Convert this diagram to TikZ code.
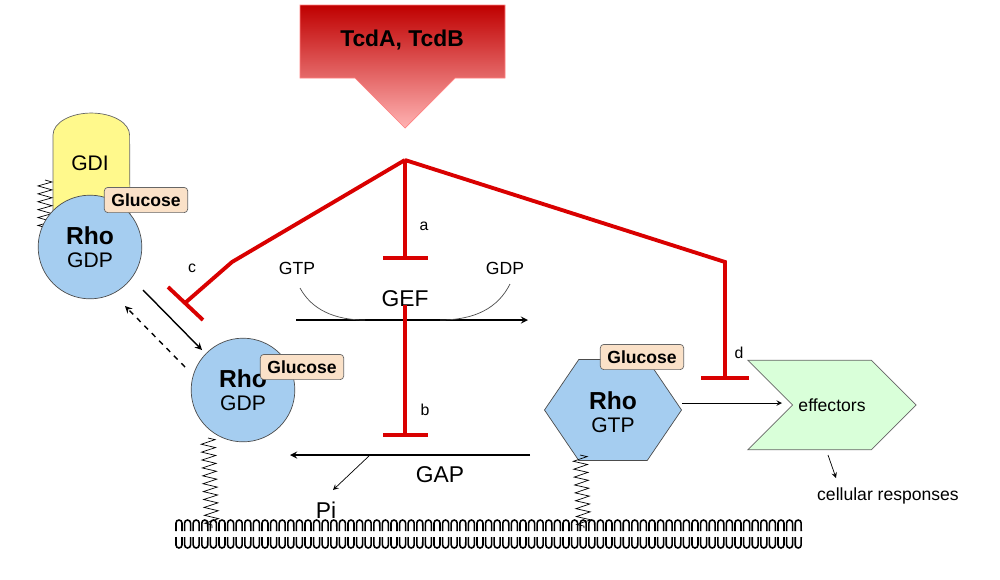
\documentclass[tikz,border=0pt]{standalone}
\usepackage{fontspec}
\setmainfont{Liberation Sans}
\usetikzlibrary{shapes,shapes.symbols,positioning,calc,decorations.pathmorphing}
\definecolor{rhoblue}{RGB}{165,205,240}
\definecolor{glcbeige}{RGB}{250,225,200}

\begin{document}
\begin{tikzpicture}[x=0.02cm,y=-0.02cm,
    rho/.style={draw=black!70, fill=rhoblue, circle, minimum size=59pt, inner sep=0, align=center, font=\fontsize{12}{13}\selectfont},
    glc/.style={draw=black!60, fill=glcbeige, rounded corners=2pt, font=\fontsize{10}{11}\selectfont\bfseries, inner xsep=4pt, inner ysep=3.5pt},
    inh/.style={red!85!black, line width=2.2pt},
    spring/.style={decorate, decoration={zigzag, segment length=4.5pt, amplitude=4pt}},
    lbl/.style={font=\fontsize{9}{10}\selectfont}]
    \useasboundingbox (0,0) rectangle (1000,579);

    % toxin arrow
    \shade[top color=red!75!black, bottom color=red!30, draw=red!50]
        (300,5) -- (505,5) -- (505,78) -- (455,78) -- (405,128) -- (355,78) -- (300,78) -- cycle;
    \node[font=\fontsize{13}{14}\selectfont\bfseries] (toxin) at (402,40) {TcdA, TcdB};

    % Rho-GDP with GDI
    \draw[black!60, fill=yellow!45] (53,215) -- (53,135) arc[start angle=180, end angle=0, x radius=21.8pt, y radius=12.5pt] -- (130,215) -- cycle;
    \node[font=\fontsize{12}{13}\selectfont] (gdi) at (90,163) {GDI};
    \draw[spring] (45,180) -- (45,228);
    \node[rho] (rhoA) at (90,247) {\fontsize{14}{15}\selectfont\textbf{Rho}\\GDP};
    \node[glc] (glcA) at (146,200) {Glucose};

    % membrane Rho-GDP
    \node[rho] (rhoB) at (243,390) {\fontsize{14}{15}\selectfont\textbf{Rho}\\GDP};
    \node[glc] (glcB) at (302,367) {Glucose};
    \draw[spring] (208,438) -- (212,528);

    % Rho-GTP
    \node[draw=black!70, fill=rhoblue, regular polygon, regular polygon sides=6, minimum size=78pt, inner sep=0, yscale=0.85, align=center, font=\fontsize{12}{13}\selectfont] (rhoC) at (613,410) {};
    \node[align=center, font=\fontsize{12}{13}\selectfont] (rhoCtxt) at (613,412) {\fontsize{14}{15}\selectfont\textbf{Rho}\\GTP};
    \node[glc] (glcC) at (642,357) {Glucose};
    \draw[spring] (580,455) -- (584,528);

    % effectors
    \node[draw=black!60, fill=green!15, signal, signal to=east, signal from=west, minimum width=76pt, minimum height=51pt, font=\fontsize{10}{11}\selectfont] (eff) at (832,405) {effectors};
    \node[font=\fontsize{10}{11}\selectfont] (resp) at (888,496) {cellular responses};
    \draw[-stealth] (828,455) -- (836,478);
    \coordinate (gtpout) at (682,403);
    \draw[-stealth] (gtpout) -- (782,403);

    % GEF / GAP cycle
    \coordinate (gefL) at (296,320);
    \coordinate (gefR) at (528,320);
    \draw[-stealth, thick] (gefL) -- (gefR);
    \draw[black!70] (300,288) .. controls (312,310) and (335,320) .. (365,320);
    \draw[black!70] (440,320) .. controls (475,320) and (498,308) .. (510,284);
    \node[font=\fontsize{10}{11}\selectfont] (gtp) at (297,268) {GTP};
    \node[font=\fontsize{10}{11}\selectfont] (gdp) at (505,268) {GDP};
    \node[font=\fontsize{13}{14}\selectfont] (gef) at (405,299) {GEF};
    \coordinate (gapR) at (530,455);
    \coordinate (gapL) at (290,455);
    \draw[-stealth, thick] (gapR) -- (gapL);
    \node[font=\fontsize{13}{14}\selectfont] (gap) at (440,475) {GAP};
    \node[font=\fontsize{13}{14}\selectfont] (pi) at (326,510) {Pi};
    \draw[-stealth] (370,455) -- (333,490);

    % translocation
    \draw[-stealth, thick] (143,290) -- (202,350);
    \draw[-stealth, thick, dashed] (185,367) -- (125,306);

    % inhibition
    \coordinate (hub) at (405,160);
    \draw[inh] (hub) -- (405,258);
    \draw[inh] (383,258) -- (428,258);
    \node[lbl] (la) at (424,226) {a};
    \draw[inh] (405,305) -- (405,435);
    \draw[inh] (383,435) -- (428,435);
    \node[lbl] (lb) at (425,410) {b};
    \draw[inh] (hub) -- (232,262) -- (185,303);
    \draw[inh] (168,287) -- (203,320);
    \node[lbl] (lc) at (192,268) {c};
    \draw[inh] (hub) -- (725,262) -- (725,378);
    \draw[inh] (701,378) -- (749,378);
    \node[lbl] (ld) at (739,353) {d};

    % membrane
    \foreach \x in {0,...,72} {
        \draw[line width=0.9pt] ({176+8.6*\x},531) -- ({176+8.6*\x},523) arc[start angle=180, end angle=0, radius=1.7pt] -- ({182+8.6*\x},531);
        \draw[line width=0.9pt] ({176+8.6*\x},537) -- ({176+8.6*\x},545) arc[start angle=180, end angle=360, radius=1.7pt] -- ({182+8.6*\x},537);
    }
\end{tikzpicture}
\end{document}
